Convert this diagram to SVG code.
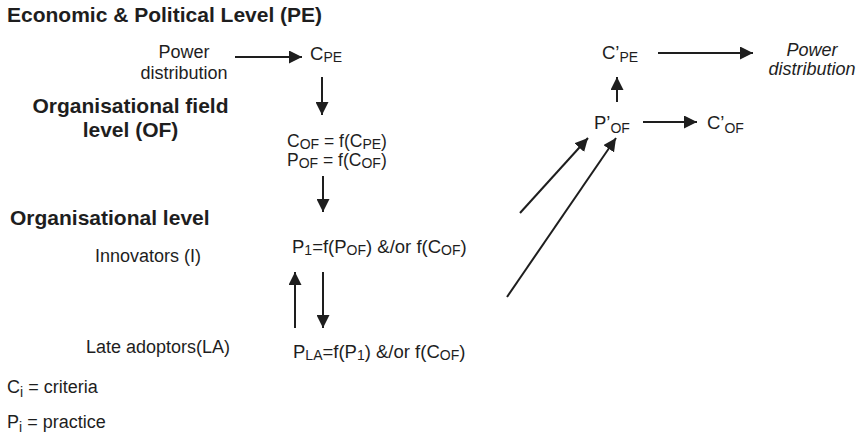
<svg xmlns="http://www.w3.org/2000/svg" width="862" height="440" viewBox="0 0 862 440">
<defs>
<style>
text{font-family:"Liberation Sans",Arial,sans-serif;fill:#1e1e1e}
.h{font-size:21px;font-weight:bold}
.t{font-size:18px}
.f{font-size:18.5px}
.fe{font-size:17.5px}
.i{font-size:18px;font-style:italic}
.s{font-size:14px}
.c line{stroke:#1e1e1e;stroke-width:2;marker-end:url(#ah)}
</style>
<marker id="ah" markerUnits="userSpaceOnUse" markerWidth="13" markerHeight="13" refX="13" refY="6.5" orient="auto">
<path d="M0,0 L13,6.5 L0,13 Z" fill="#1e1e1e"/>
</marker>
</defs>
<rect width="862" height="440" fill="#fff"/>

<g id="labels">
<text class="h" x="7" y="22">Economic &amp; Political Level (PE)</text>
<text class="h" x="130.5" y="113" text-anchor="middle">Organisational field</text>
<text class="h" x="130.5" y="137" text-anchor="middle">level (OF)</text>
<text class="h" x="10" y="225">Organisational level</text>
<text class="t" x="95" y="262">Innovators (I)</text>
<text class="t" x="86" y="353">Late adoptors(LA)</text>
<text class="t" x="7" y="393">C<tspan class="s" dy="4">i</tspan><tspan dy="-4"> = criteria</tspan></text>
<text class="t" x="7" y="428">P<tspan class="s" dy="4">i</tspan><tspan dy="-4"> = practice</tspan></text>
</g>

<g id="power-in">
<text class="t" x="184" y="58" text-anchor="middle">Power</text>
<text class="t" x="184" y="79" text-anchor="middle">distribution</text>
</g>

<g id="c-pe">
<text class="f" x="310" y="60">C<tspan class="s" dy="2">PE</tspan></text>
</g>

<g id="of-eq">
<text class="fe" x="287" y="147">C<tspan class="s" dy="2">OF</tspan><tspan dy="-2"> = f(C</tspan><tspan class="s" dy="2">PE</tspan><tspan dy="-2">)</tspan></text>
<text class="fe" x="287" y="166">P<tspan class="s" dy="2">OF</tspan><tspan dy="-2"> = f(C</tspan><tspan class="s" dy="2">OF</tspan><tspan dy="-2">)</tspan></text>
</g>

<g id="p1">
<text class="f" x="292" y="253">P<tspan class="s" dy="2">1</tspan><tspan dy="-2">=f(P</tspan><tspan class="s" dy="2">OF</tspan><tspan dy="-2">) &amp;/or f(C</tspan><tspan class="s" dy="2">OF</tspan><tspan dy="-2">)</tspan></text>
</g>

<g id="pla">
<text class="f" x="293" y="358">P<tspan class="s" dy="2">LA</tspan><tspan dy="-2">=f(P</tspan><tspan class="s" dy="2">1</tspan><tspan dy="-2">) &amp;/or f(C</tspan><tspan class="s" dy="2">OF</tspan><tspan dy="-2">)</tspan></text>
</g>

<g id="c-pe-prime">
<text class="f" x="602" y="59">C’<tspan class="s" dy="3">PE</tspan></text>
</g>

<g id="power-out">
<text class="i" x="812" y="56" text-anchor="middle">Power</text>
<text class="i" x="812" y="75" text-anchor="middle">distribution</text>
</g>

<g id="p-of-prime">
<text class="f" x="594" y="129">P’<tspan class="s" dy="4">OF</tspan></text>
</g>

<g id="c-of-prime">
<text class="f" x="707" y="129">C’<tspan class="s" dy="4">OF</tspan></text>
</g>

<g id="connectors" class="c">
<line x1="235" y1="57" x2="302" y2="57"/>
<line x1="322" y1="77" x2="322" y2="115"/>
<line x1="323" y1="176" x2="323" y2="212"/>
<line x1="295" y1="328" x2="295" y2="272"/>
<line x1="323" y1="272" x2="323" y2="328"/>
<line x1="520" y1="213" x2="588" y2="138"/>
<line x1="507" y1="297" x2="616" y2="138"/>
<line x1="617" y1="102" x2="617" y2="77"/>
<line x1="643" y1="122" x2="697" y2="122"/>
<line x1="658" y1="53" x2="753" y2="53"/>
</g>
</svg>
